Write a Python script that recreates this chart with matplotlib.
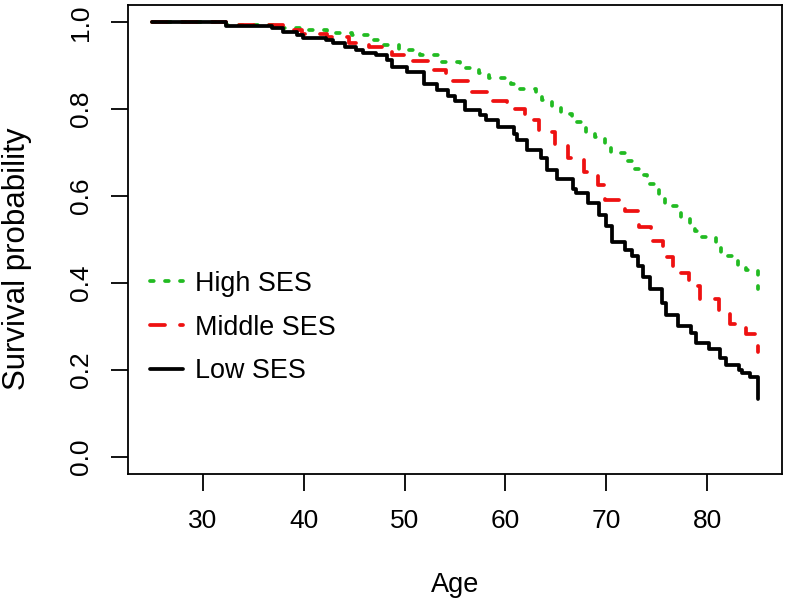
import matplotlib
matplotlib.use("Agg")
import matplotlib.pyplot as plt

plt.rcParams['font.family'] = ['Liberation Sans', 'DejaVu Sans']

# Kaplan-Meier step curves (age, survival after the drop)
high_age = [25, 32.3, 37.9, 40.0, 42.3, 44.8, 46.5, 48.0, 49.5, 51.5, 53.3, 55.5,
            57.4, 58.4, 60.5, 61.4, 63.0, 63.6, 64.6, 65.5, 66.6, 68.0, 68.9, 69.9,
            70.5, 71.8, 72.8, 73.3, 74.0, 75.2, 75.8, 77.1, 77.4, 78.3, 78.8, 79.4,
            80.9, 81.4, 83.0, 83.8, 85.0]
high_surv = [1.0, 0.995, 0.986, 0.983, 0.975, 0.970, 0.959, 0.947, 0.936, 0.924, 0.909, 0.896,
             0.883, 0.872, 0.859, 0.846, 0.833, 0.821, 0.802, 0.790, 0.770, 0.747, 0.736, 0.712,
             0.699, 0.680, 0.662, 0.648, 0.628, 0.602, 0.577, 0.560, 0.549, 0.533, 0.520, 0.506,
             0.487, 0.462, 0.439, 0.430, 0.385]

mid_age = [25, 32.3, 38.0, 39.8, 42.3, 44.5, 46.5, 48.8, 50.8, 52.5, 54.1, 56.3,
           58.2, 60.2, 61.9, 63.3, 64.9, 66.2, 67.8, 69.2, 69.9, 71.8, 73.2, 74.4,
           75.6, 76.6, 78.2, 79.3, 81.2, 82.2, 83.8, 85.0]
mid_surv = [1.0, 0.993, 0.983, 0.974, 0.966, 0.952, 0.943, 0.924, 0.910, 0.890, 0.866, 0.839,
            0.818, 0.800, 0.775, 0.747, 0.717, 0.687, 0.655, 0.625, 0.590, 0.566, 0.529, 0.496,
            0.460, 0.423, 0.393, 0.363, 0.338, 0.306, 0.283, 0.241]

low_age = [25, 32.3, 36.9, 38.0, 39.3, 39.9, 42.2, 42.9, 44.1, 45.2, 45.9, 47.2,
           48.3, 48.8, 50.2, 51.9, 53.2, 54.3, 55.0, 56.0, 57.5, 58.1, 59.3, 60.8,
           61.1, 62.1, 63.5, 64.1, 65.1, 66.7, 67.0, 68.2, 69.3, 70.0, 70.6, 71.8,
           72.5, 73.1, 73.6, 74.3, 75.5, 75.9, 77.1, 78.4, 78.9, 80.2, 81.3, 81.9,
           83.1, 83.4, 84.2, 85.0]
low_surv = [1.0, 0.992, 0.986, 0.978, 0.970, 0.964, 0.959, 0.952, 0.943, 0.936, 0.930, 0.924,
            0.913, 0.897, 0.886, 0.858, 0.845, 0.830, 0.818, 0.798, 0.786, 0.775, 0.759, 0.744,
            0.729, 0.706, 0.688, 0.660, 0.640, 0.617, 0.607, 0.584, 0.556, 0.532, 0.494, 0.476,
            0.462, 0.438, 0.414, 0.386, 0.354, 0.326, 0.300, 0.285, 0.262, 0.248, 0.228, 0.212,
            0.200, 0.193, 0.183, 0.133]

x_ticks = [30, 40, 50, 60, 70, 80]
y_ticks = [0.0, 0.2, 0.4, 0.6, 0.8, 1.0]

fig = plt.figure(figsize=(7.87, 6.09), dpi=100)
ax = fig.add_axes([128 / 787, 1 - 474 / 609, 654 / 787, 469 / 609])

lw = 2.7
ax.step(high_age, high_surv, where='post', color='#22bb22', lw=lw,
        linestyle=(0, (1, 3)), dash_capstyle='round', label='High SES')
ax.step(mid_age, mid_surv, where='post', color='#ee1111', lw=lw,
        linestyle=(0, (4, 4)), dash_capstyle='round', label='Middle SES')
ax.step(low_age, low_surv, where='post', color='black', lw=lw,
        solid_capstyle='round', label='Low SES')

ax.set_xlim(22.6, 87.4)
ax.set_ylim(-0.04, 1.04)
ax.set_xticks(x_ticks)
ax.set_yticks(y_ticks)
ax.set_xticklabels([str(t) for t in x_ticks])
ax.set_yticklabels(['%.1f' % t for t in y_ticks], rotation=90, va='center')

for s in ax.spines.values():
    s.set_linewidth(1.3)
ax.tick_params(direction='out', length=12, width=1.3, labelsize=19, pad=13)

ax.set_xlabel('Age', fontsize=19.5)
ax.xaxis.set_label_coords(0.5, -0.208)
ax.set_ylabel('Survival probability', fontsize=22.5)
ax.yaxis.set_label_coords(-0.147, 0.46)

ax.legend(loc='upper left', bbox_to_anchor=(0.034, 0.433), frameon=False,
          fontsize=19.4, handlelength=1.2, handletextpad=0.45, labelspacing=0.66,
          borderpad=0, borderaxespad=0)

fig.savefig('out.png', dpi=100)
